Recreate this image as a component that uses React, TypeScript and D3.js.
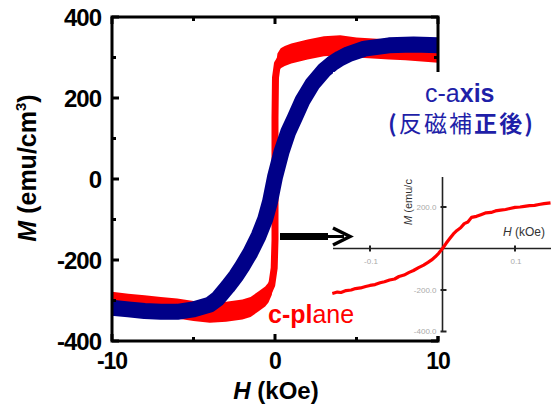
import React from "react";
import * as d3 from "d3";

// Main plot data (H in kOe, M in emu/cm3)
const blueH = [-10, -9, -8, -7, -6, -5, -4, -3.5, -2.9, -2.4, -2, -1.5, -1, -0.6, -0.3, 0, 0.4, 0.8, 1.2, 1.7, 2.3, 3, 3.5, 4, 4.5, 5.5, 7, 8.5, 10];
const blueM = [-318, -322, -326, -328, -328, -322, -310, -295, -266, -240, -215, -181, -140, -99, -55, 5, 67, 115, 150, 195, 235, 268, 285, 298, 308, 322, 330, 332, 330];

const redH = [-10, -9, -8, -7, -6, -5, -4, -3, -2, -1.5, -1, -0.6, -0.4, -0.2, -0.05, 0, 0, 0, 0.03, 0.15, 0.35, 0.6, 1, 2, 3, 4, 5, 6, 7, 8, 9, 10];
const redM = [-303, -308, -312, -316, -320, -326, -330, -328, -322, -316, -302, -290, -280, -262, -220, -150, 0, 150, 250, 285, 298, 304, 310, 320, 328, 330, 325, 322, 320, 318, 315, 312];

// Inset data (H in kOe, M in emu/cm3)
const insetH = [-0.152, -0.145, -0.14, -0.133, -0.126, -0.12, -0.113, -0.106, -0.1, -0.093, -0.086, -0.08, -0.073, -0.066, -0.06, -0.053, -0.046, -0.04, -0.033, -0.026, -0.02, -0.015, -0.01, -0.005, 0, 0.005, 0.01, 0.015, 0.02, 0.025, 0.03, 0.035, 0.04, 0.047, 0.053, 0.06, 0.067, 0.073, 0.08, 0.087, 0.093, 0.1, 0.107, 0.113, 0.12, 0.127, 0.133, 0.14, 0.149];
const insetM = [-217, -210, -212, -203, -200, -193, -190, -183, -178, -174, -165, -160, -152, -147, -135, -128, -115, -106, -92, -80, -67, -55, -40, -22, 0, 25, 48, 70, 87, 100, 120, 128, 150, 155, 163, 172, 174, 181, 185, 188, 193, 198, 200, 203, 207, 208, 212, 216, 220];

// Tick definitions
const yMajor = [-400, -200, 0, 200, 400];
const yMinor = [-300, -100, 100, 300];
const xMajor = [-10, 0, 10];
const xMinor = [-5, 5];
const insetXTicks = [-0.1, 0.1];
const insetXLabels = ["-0.1", "0.1"];
const insetYTicks = [200, -200, -400];
const insetYLabels = ["200.0", "-200.0", "-400.0"];

const FONT = "'Liberation Sans', Arial, sans-serif";
const RED = "#ff0000";
const NAVY = "#000088";
const TXTBLUE = "#1f1fa8";

export default function App() {
  const x = d3.scaleLinear().domain([-10, 10]).range([112, 438]);
  const y = d3.scaleLinear().domain([-400, 400]).range([341, 17]);

  const blue = blueH.map((h, i) => [h, blueM[i]] as [number, number]);
  const red = redH.map((h, i) => [h, redM[i]] as [number, number]);

  const line = d3
    .line<[number, number]>()
    .x((d) => x(d[0]))
    .y((d) => y(d[1]));
  const redArea = d3
    .area<[number, number]>()
    .x((d) => x(d[0]))
    .y0((d) => y(d[1]) - 10)
    .y1((d) => y(d[1]) + 10);

  const xi = d3.scaleLinear().domain([-0.1, 0.1]).range([370, 515]);
  const yi = d3.scaleLinear().domain([-200, 200]).range([290, 207]);
  const inset = insetH.map((h, i) => [h, insetM[i]] as [number, number]);
  const insetLine = d3
    .line<[number, number]>()
    .x((d) => xi(d[0]))
    .y((d) => yi(d[1]));

  const x0 = 112, x1 = 438, y0 = 17, y1 = 341;

  return (
    <svg
      width={551}
      height={408}
      style={{ position: "absolute", left: 0, top: 0, background: "#fff" }}
      fontFamily={FONT}
    >
      <rect x={0} y={0} width={551} height={408} fill="#fff" />
      {/* curves */}
      <path d={redArea(red) || ""} fill={RED} stroke="none" />
      <path d={line(red) || ""} fill="none" stroke={RED} strokeWidth={7} strokeLinejoin="round" />
      <path d={line(blue) || ""} fill="none" stroke={NAVY} strokeWidth={16} strokeLinejoin="round" />

      {/* frame */}
      <rect x={x0} y={y0} width={x1 - x0} height={y1 - y0} fill="none" stroke="#000" strokeWidth={3} />
      {yMajor.map((v) => (
        <g key={"ym" + v}>
          <line x1={x0} x2={x0 + 7} y1={y(v)} y2={y(v)} stroke="#000" strokeWidth={3} />
          <line x1={x1} x2={x1 - 7} y1={y(v)} y2={y(v)} stroke="#000" strokeWidth={3} />
        </g>
      ))}
      {yMinor.map((v) => (
        <g key={"yn" + v}>
          <line x1={x0} x2={x0 + 4} y1={y(v)} y2={y(v)} stroke="#000" strokeWidth={3} />
          <line x1={x1} x2={x1 - 4} y1={y(v)} y2={y(v)} stroke="#000" strokeWidth={3} />
        </g>
      ))}
      {xMajor.map((v) => (
        <g key={"xm" + v}>
          <line x1={x(v)} x2={x(v)} y1={y0} y2={y0 + 7} stroke="#000" strokeWidth={3} />
          <line x1={x(v)} x2={x(v)} y1={y1} y2={y1 - 7} stroke="#000" strokeWidth={3} />
        </g>
      ))}
      {xMinor.map((v) => (
        <g key={"xn" + v}>
          <line x1={x(v)} x2={x(v)} y1={y0} y2={y0 + 4} stroke="#000" strokeWidth={3} />
          <line x1={x(v)} x2={x(v)} y1={y1} y2={y1 - 4} stroke="#000" strokeWidth={3} />
        </g>
      ))}

      {/* tick labels */}
      {yMajor.map((v) => (
        <text key={"yl" + v} x={101} y={y(v)} dy="0.36em" textAnchor="end" fontSize={24} fontWeight="bold" letterSpacing={-1}>
          {String(v)}
        </text>
      ))}
      {xMajor.map((v) => (
        <text key={"xl" + v} x={x(v)} y={369} textAnchor="middle" fontSize={23} fontWeight="bold" letterSpacing={-1}>
          {String(v)}
        </text>
      ))}

      {/* axis titles */}
      <text transform="translate(36,168) rotate(-90)" textAnchor="middle" fontSize={25} fontWeight="bold">
        <tspan fontStyle="italic">M</tspan> (emu/cm<tspan fontSize={15} dy={-10}>3</tspan><tspan dy={10}>)</tspan>
      </text>
      <text x={276} y={399} textAnchor="middle" fontSize={24} fontWeight="bold">
        <tspan fontStyle="italic">H</tspan> (kOe)
      </text>

      {/* inset background */}
      <rect x={333} y={72} width={218} height={264} fill="#fff" />

      {/* inset axes */}
      <line x1={333} x2={551} y1={yi(0)} y2={yi(0)} stroke="#222" strokeWidth={1.6} />
      <line x1={xi(0)} x2={xi(0)} y1={177} y2={331} stroke="#222" strokeWidth={1.6} />
      {insetXTicks.map((v, i) => (
        <g key={"ixt" + v}>
          <line x1={xi(v)} x2={xi(v)} y1={yi(0) - 3} y2={yi(0) + 3} stroke="#222" strokeWidth={2} />
          <text x={xi(v) + 1} y={yi(0) + 15} textAnchor="middle" fontSize={8} fill="#aaa">
            {insetXLabels[i]}
          </text>
        </g>
      ))}
      {insetYTicks.map((v, i) => (
        <g key={"iyt" + v}>
          <line x1={xi(0) - 2} x2={xi(0) + 4} y1={yi(v)} y2={yi(v)} stroke="#222" strokeWidth={2} />
          <text x={xi(0) - 6} y={yi(v)} dy="0.35em" textAnchor="end" fontSize={8} fill="#aaa">
            {insetYLabels[i]}
          </text>
        </g>
      ))}
      <text transform="translate(412,202) rotate(-90)" textAnchor="middle" fontSize={11} fill="#333">
        <tspan fontStyle="italic">M</tspan> (emu/c
      </text>
      <text x={503} y={236} fontSize={12} fill="#333">
        <tspan fontStyle="italic">H</tspan> (kOe)
      </text>
      <path d={insetLine(inset) || ""} fill="none" stroke={RED} strokeWidth={3.2} strokeLinejoin="round" />

      {/* arrow */}
      <rect x={280} y={233} width={48} height={7} fill="#000" />
      <line x1={318} x2={344} y1={236.5} y2={236.5} stroke="#000" strokeWidth={3} />
      <polyline points="333,228 350,236.5 333,245" fill="none" stroke="#000" strokeWidth={3.5} />

      {/* annotations */}
      <text x={268} y={323} fontSize={25} fill={RED}>
        <tspan fontWeight="bold">c-pl</tspan>ane
      </text>
      <text x={425} y={102} fontSize={25} fill={TXTBLUE}>
        c-a<tspan fontWeight="bold">xis</tspan>
      </text>
      <text x={388} y={132} fontSize={23} fill={TXTBLUE} fontFamily="'Noto Sans CJK JP', sans-serif" textLength={145} lengthAdjust="spacing">
        <tspan fontWeight="bold">(</tspan>反磁補<tspan fontWeight="bold">正後)</tspan>
      </text>
    </svg>
  );
}
